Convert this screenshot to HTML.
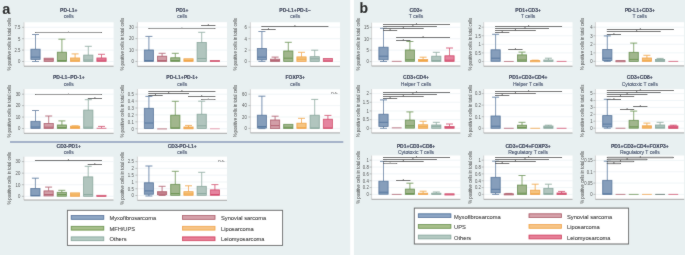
<!DOCTYPE html>
<html><head><meta charset="utf-8"><style>
html,body{margin:0;padding:0;background:#e8f0f1;}
svg{display:block;font-family:"Liberation Sans",sans-serif;}
#w{width:685px;height:255px;overflow:hidden;}
.t1{font-size:5.0px;font-weight:bold;fill:#18213f;stroke:#18213f;stroke-width:0.1px;text-anchor:middle;}
.t2{font-size:5.0px;fill:#34405f;stroke:#34405f;stroke-width:0.08px;text-anchor:middle;}
.tl{font-size:4.5px;fill:#4a4a4a;text-anchor:end;}
.yt{font-size:4.75px;fill:#3a3a3a;text-anchor:middle;}
.g{stroke:#e6eef2;stroke-width:0.6;}
.ay{stroke:#c8c8c8;stroke-width:0.8;}
.ax{stroke:#9a9a9a;stroke-width:0.9;}
.tk{stroke:#999;stroke-width:0.6;}
.sb{stroke:#4e4e4e;stroke-width:0.95;}
.sd{fill:#333;}
.st{font-size:4.4px;fill:#333;text-anchor:middle;}
.ns{font-size:4.3px;fill:#333;text-anchor:end;}
.lg{font-size:5.72px;fill:#1a1a1a;stroke:#1a1a1a;stroke-width:0.05px;}
.lab{font-size:14.5px;font-weight:bold;fill:#000;}
</style></head>
<body><div id="w"><svg width="685" height="255" viewBox="0 0 685 255">
<defs><filter id="soft" x="0" y="0" width="685" height="255" filterUnits="userSpaceOnUse"><feConvolveMatrix order="3" kernelMatrix="1 2 1 2 28 2 1 2 1" divisor="40" edgeMode="duplicate" preserveAlpha="true"/></filter></defs><g filter="url(#soft)">
<rect x="0" y="0" width="685" height="255" fill="#e8f0f1"/>
<rect x="350.2" y="0" width="3.7" height="255" fill="#fff"/>
<text x="2.3" y="14" class="lab">a</text>
<text x="359.6" y="12.9" class="lab" style="font-size:14px">b</text>
<line x1="10" x2="343.3" y1="142" y2="142" stroke="#8a9ab8" stroke-width="1.6"/>
<text x="68.8" y="12.2" class="t1">PD-L1+</text>
<text x="68.8" y="18.3" class="t2">cells</text>
<rect x="24" y="22.3" width="89.6" height="43.9" fill="#fff"/>
<line x1="24" x2="113.6" y1="27.3" y2="27.3" class="g"/>
<line x1="24" x2="113.6" y1="38.7" y2="38.7" class="g"/>
<line x1="24" x2="113.6" y1="50.1" y2="50.1" class="g"/>
<line x1="24" x2="113.6" y1="61.5" y2="61.5" class="g"/>
<line x1="24" x2="24" y1="22.3" y2="66.2" class="ay"/>
<line x1="24" x2="113.6" y1="66.2" y2="66.2" class="ax"/>
<line x1="22" x2="24" y1="27.3" y2="27.3" class="tk"/>
<text transform="translate(20.4,29.15) scale(0.95,1)" class="tl">7.5</text>
<line x1="22" x2="24" y1="38.7" y2="38.7" class="tk"/>
<text transform="translate(20.4,40.55) scale(0.95,1)" class="tl">5</text>
<line x1="22" x2="24" y1="50.1" y2="50.1" class="tk"/>
<text transform="translate(20.4,51.95) scale(0.95,1)" class="tl">2.5</text>
<line x1="22" x2="24" y1="61.5" y2="61.5" class="tk"/>
<text transform="translate(20.4,63.35) scale(0.95,1)" class="tl">0</text>
<text transform="translate(11,44.25) rotate(-90) scale(0.9,1)" class="yt">% positive cells in total cells</text>
<line x1="35.5" x2="35.5" y1="34.5" y2="49.2" stroke="#53759d" stroke-width="0.8"/>
<line x1="32" x2="39" y1="34.5" y2="34.5" stroke="#53759d" stroke-width="0.85"/>
<line x1="35.5" x2="35.5" y1="59.4" y2="61.5" stroke="#53759d" stroke-width="0.8"/>
<line x1="32" x2="39" y1="61.5" y2="61.5" stroke="#53759d" stroke-width="0.85"/>
<rect x="30.9" y="49.2" width="9.2" height="10.2" fill="#869ebb" stroke="#4a6e98" stroke-width="0.8"/>
<line x1="30.9" x2="40.1" y1="57.1" y2="57.1" stroke="#4a6e98" stroke-width="0.75"/>
<rect x="44.1" y="58.2" width="9.2" height="3.3" fill="#d29ea7" stroke="#ab5062" stroke-width="0.8"/>
<line x1="44.1" x2="53.3" y1="59.8" y2="59.8" stroke="#ab5062" stroke-width="0.75"/>
<line x1="61.9" x2="61.9" y1="39.2" y2="52.2" stroke="#67924b" stroke-width="0.8"/>
<line x1="58.4" x2="65.4" y1="39.2" y2="39.2" stroke="#67924b" stroke-width="0.85"/>
<rect x="57.3" y="52.2" width="9.2" height="9.3" fill="#a1b68d" stroke="#5f8c42" stroke-width="0.8"/>
<line x1="57.3" x2="66.5" y1="60.5" y2="60.5" stroke="#5f8c42" stroke-width="0.75"/>
<line x1="75.1" x2="75.1" y1="53.9" y2="58" stroke="#f0a43f" stroke-width="0.8"/>
<line x1="71.6" x2="78.6" y1="53.9" y2="53.9" stroke="#f0a43f" stroke-width="0.85"/>
<rect x="70.5" y="58" width="9.2" height="3.5" fill="#f5c482" stroke="#ef9f35" stroke-width="0.8"/>
<line x1="70.5" x2="79.7" y1="60.2" y2="60.2" stroke="#ef9f35" stroke-width="0.75"/>
<line x1="88.3" x2="88.3" y1="46.3" y2="55.1" stroke="#89a89d" stroke-width="0.8"/>
<line x1="84.8" x2="91.8" y1="46.3" y2="46.3" stroke="#89a89d" stroke-width="0.85"/>
<rect x="83.7" y="55.1" width="9.2" height="6.4" fill="#b1c5be" stroke="#83a398" stroke-width="0.8"/>
<line x1="83.7" x2="92.9" y1="60" y2="60" stroke="#83a398" stroke-width="0.75"/>
<line x1="101.5" x2="101.5" y1="54.3" y2="58" stroke="#d2466a" stroke-width="0.8"/>
<line x1="98" x2="105" y1="54.3" y2="54.3" stroke="#d2466a" stroke-width="0.85"/>
<rect x="96.9" y="58" width="9.2" height="3.5" fill="#e5849f" stroke="#d03c62" stroke-width="0.8"/>
<line x1="96.9" x2="106.1" y1="60.2" y2="60.2" stroke="#d03c62" stroke-width="0.75"/>
<line x1="35.5" x2="101.5" y1="32.5" y2="32.5" class="sb" style="stroke:#858585"/>
<circle cx="35.5" cy="32.5" r="0.55" class="sd"/><circle cx="101.5" cy="32.5" r="0.55" class="sd"/>
<ellipse cx="68.5" cy="32" rx="0.6" ry="0.8" class="sd" style="fill:#9a9a9a"/>
<text x="182.2" y="12.2" class="t1">PD1+</text>
<text x="182.2" y="18.3" class="t2">cells</text>
<rect x="137.4" y="22.2" width="89.6" height="44.1" fill="#fff"/>
<line x1="137.4" x2="227" y1="27.2" y2="27.2" class="g"/>
<line x1="137.4" x2="227" y1="38.63" y2="38.63" class="g"/>
<line x1="137.4" x2="227" y1="50.07" y2="50.07" class="g"/>
<line x1="137.4" x2="227" y1="61.5" y2="61.5" class="g"/>
<line x1="137.4" x2="137.4" y1="22.2" y2="66.3" class="ay"/>
<line x1="137.4" x2="227" y1="66.3" y2="66.3" class="ax"/>
<line x1="135.4" x2="137.4" y1="27.2" y2="27.2" class="tk"/>
<text transform="translate(133.8,29.05) scale(0.95,1)" class="tl">30</text>
<line x1="135.4" x2="137.4" y1="38.63" y2="38.63" class="tk"/>
<text transform="translate(133.8,40.48) scale(0.95,1)" class="tl">20</text>
<line x1="135.4" x2="137.4" y1="50.07" y2="50.07" class="tk"/>
<text transform="translate(133.8,51.92) scale(0.95,1)" class="tl">10</text>
<line x1="135.4" x2="137.4" y1="61.5" y2="61.5" class="tk"/>
<text transform="translate(133.8,63.35) scale(0.95,1)" class="tl">0</text>
<text transform="translate(124.4,44.25) rotate(-90) scale(0.9,1)" class="yt">% positive cells in total cells</text>
<line x1="148.9" x2="148.9" y1="36.4" y2="50" stroke="#53759d" stroke-width="0.8"/>
<line x1="145.4" x2="152.4" y1="36.4" y2="36.4" stroke="#53759d" stroke-width="0.85"/>
<rect x="144.3" y="50" width="9.2" height="11.5" fill="#869ebb" stroke="#4a6e98" stroke-width="0.8"/>
<line x1="144.3" x2="153.5" y1="60.5" y2="60.5" stroke="#4a6e98" stroke-width="0.75"/>
<line x1="162.1" x2="162.1" y1="53.3" y2="56.2" stroke="#af596a" stroke-width="0.8"/>
<line x1="158.6" x2="165.6" y1="53.3" y2="53.3" stroke="#af596a" stroke-width="0.85"/>
<rect x="157.5" y="56.2" width="9.2" height="5.3" fill="#d29ea7" stroke="#ab5062" stroke-width="0.8"/>
<line x1="157.5" x2="166.7" y1="60.5" y2="60.5" stroke="#ab5062" stroke-width="0.75"/>
<line x1="175.3" x2="175.3" y1="53.3" y2="57.8" stroke="#67924b" stroke-width="0.8"/>
<line x1="171.8" x2="178.8" y1="53.3" y2="53.3" stroke="#67924b" stroke-width="0.85"/>
<rect x="170.7" y="57.8" width="9.2" height="3.7" fill="#a1b68d" stroke="#5f8c42" stroke-width="0.8"/>
<line x1="170.7" x2="179.9" y1="60.5" y2="60.5" stroke="#5f8c42" stroke-width="0.75"/>
<rect x="183.9" y="58.8" width="9.2" height="2.7" fill="#f5c482" stroke="#ef9f35" stroke-width="0.8"/>
<line x1="183.9" x2="193.1" y1="60.5" y2="60.5" stroke="#ef9f35" stroke-width="0.75"/>
<line x1="201.7" x2="201.7" y1="32.3" y2="42.5" stroke="#89a89d" stroke-width="0.8"/>
<line x1="198.2" x2="205.2" y1="32.3" y2="32.3" stroke="#89a89d" stroke-width="0.85"/>
<rect x="197.1" y="42.5" width="9.2" height="19" fill="#b1c5be" stroke="#83a398" stroke-width="0.8"/>
<line x1="197.1" x2="206.3" y1="58.5" y2="58.5" stroke="#83a398" stroke-width="0.75"/>
<rect x="210.3" y="60.5" width="9.2" height="1.1" fill="#e5849f" stroke="#d03c62" stroke-width="0.8"/>
<line x1="148.9" x2="214.9" y1="28.5" y2="28.5" class="sb" style="stroke:#858585"/>
<circle cx="148.9" cy="28.5" r="0.55" class="sd"/><circle cx="214.9" cy="28.5" r="0.55" class="sd"/>
<ellipse cx="181.9" cy="28" rx="0.6" ry="0.8" class="sd" style="fill:#9a9a9a"/>
<line x1="201.7" x2="214.9" y1="25.5" y2="25.5" class="sb"/>
<circle cx="201.7" cy="25.5" r="0.55" class="sd"/><circle cx="214.9" cy="25.5" r="0.55" class="sd"/>
<ellipse cx="208.3" cy="25" rx="0.6" ry="0.8" class="sd"/>
<text x="295.2" y="12.2" class="t1">PD-L1+PD-1−</text>
<text x="295.2" y="18.3" class="t2">cells</text>
<rect x="250.4" y="22.3" width="89.6" height="44" fill="#fff"/>
<line x1="250.4" x2="340" y1="27.2" y2="27.2" class="g"/>
<line x1="250.4" x2="340" y1="38.67" y2="38.67" class="g"/>
<line x1="250.4" x2="340" y1="50.13" y2="50.13" class="g"/>
<line x1="250.4" x2="340" y1="61.6" y2="61.6" class="g"/>
<line x1="250.4" x2="250.4" y1="22.3" y2="66.3" class="ay"/>
<line x1="250.4" x2="340" y1="66.3" y2="66.3" class="ax"/>
<line x1="248.4" x2="250.4" y1="27.2" y2="27.2" class="tk"/>
<text transform="translate(246.8,29.05) scale(0.95,1)" class="tl">6</text>
<line x1="248.4" x2="250.4" y1="38.67" y2="38.67" class="tk"/>
<text transform="translate(246.8,40.52) scale(0.95,1)" class="tl">4</text>
<line x1="248.4" x2="250.4" y1="50.13" y2="50.13" class="tk"/>
<text transform="translate(246.8,51.98) scale(0.95,1)" class="tl">2</text>
<line x1="248.4" x2="250.4" y1="61.6" y2="61.6" class="tk"/>
<text transform="translate(246.8,63.45) scale(0.95,1)" class="tl">0</text>
<text transform="translate(237.4,44.3) rotate(-90) scale(0.9,1)" class="yt">% positive cells in total cells</text>
<line x1="261.9" x2="261.9" y1="31.5" y2="48.4" stroke="#53759d" stroke-width="0.8"/>
<line x1="258.4" x2="265.4" y1="31.5" y2="31.5" stroke="#53759d" stroke-width="0.85"/>
<line x1="261.9" x2="261.9" y1="59.8" y2="61.4" stroke="#53759d" stroke-width="0.8"/>
<line x1="258.4" x2="265.4" y1="61.4" y2="61.4" stroke="#53759d" stroke-width="0.85"/>
<rect x="257.3" y="48.4" width="9.2" height="11.4" fill="#869ebb" stroke="#4a6e98" stroke-width="0.8"/>
<line x1="257.3" x2="266.5" y1="57.1" y2="57.1" stroke="#4a6e98" stroke-width="0.75"/>
<line x1="275.1" x2="275.1" y1="57.1" y2="59.2" stroke="#af596a" stroke-width="0.8"/>
<line x1="271.6" x2="278.6" y1="57.1" y2="57.1" stroke="#af596a" stroke-width="0.85"/>
<rect x="270.5" y="59.2" width="9.2" height="2.2" fill="#d29ea7" stroke="#ab5062" stroke-width="0.8"/>
<line x1="270.5" x2="279.7" y1="60.6" y2="60.6" stroke="#ab5062" stroke-width="0.75"/>
<line x1="288.3" x2="288.3" y1="42.3" y2="51" stroke="#67924b" stroke-width="0.8"/>
<line x1="284.8" x2="291.8" y1="42.3" y2="42.3" stroke="#67924b" stroke-width="0.85"/>
<rect x="283.7" y="51" width="9.2" height="10.4" fill="#a1b68d" stroke="#5f8c42" stroke-width="0.8"/>
<line x1="283.7" x2="292.9" y1="58.2" y2="58.2" stroke="#5f8c42" stroke-width="0.75"/>
<line x1="301.5" x2="301.5" y1="52.3" y2="56.9" stroke="#f0a43f" stroke-width="0.8"/>
<line x1="298" x2="305" y1="52.3" y2="52.3" stroke="#f0a43f" stroke-width="0.85"/>
<rect x="296.9" y="56.9" width="9.2" height="4.5" fill="#f5c482" stroke="#ef9f35" stroke-width="0.8"/>
<line x1="296.9" x2="306.1" y1="59.2" y2="59.2" stroke="#ef9f35" stroke-width="0.75"/>
<line x1="314.7" x2="314.7" y1="50.2" y2="56.7" stroke="#89a89d" stroke-width="0.8"/>
<line x1="311.2" x2="318.2" y1="50.2" y2="50.2" stroke="#89a89d" stroke-width="0.85"/>
<rect x="310.1" y="56.7" width="9.2" height="4.7" fill="#b1c5be" stroke="#83a398" stroke-width="0.8"/>
<line x1="310.1" x2="319.3" y1="58.8" y2="58.8" stroke="#83a398" stroke-width="0.75"/>
<rect x="323.3" y="58.4" width="9.2" height="3.2" fill="#e5849f" stroke="#d03c62" stroke-width="0.8"/>
<line x1="323.3" x2="332.5" y1="61" y2="61" stroke="#d03c62" stroke-width="0.75"/>
<line x1="261.9" x2="327.9" y1="26.5" y2="26.5" class="sb"/>
<circle cx="261.9" cy="26.5" r="0.55" class="sd"/><circle cx="327.9" cy="26.5" r="0.55" class="sd"/>
<ellipse cx="294.9" cy="26" rx="0.6" ry="0.8" class="sd"/>
<line x1="261.9" x2="275.1" y1="29.5" y2="29.5" class="sb"/>
<circle cx="261.9" cy="29.5" r="0.55" class="sd"/><circle cx="275.1" cy="29.5" r="0.55" class="sd"/>
<ellipse cx="268.5" cy="29" rx="0.6" ry="0.8" class="sd"/>
<text x="68.8" y="79.4" class="t1">PD-L1−PD-1+</text>
<text x="68.8" y="85.5" class="t2">cells</text>
<rect x="24" y="89.1" width="89.6" height="44.2" fill="#fff"/>
<line x1="24" x2="113.6" y1="94.2" y2="94.2" class="g"/>
<line x1="24" x2="113.6" y1="105.63" y2="105.63" class="g"/>
<line x1="24" x2="113.6" y1="117.07" y2="117.07" class="g"/>
<line x1="24" x2="113.6" y1="128.5" y2="128.5" class="g"/>
<line x1="24" x2="24" y1="89.1" y2="133.3" class="ay"/>
<line x1="24" x2="113.6" y1="133.3" y2="133.3" class="ax"/>
<line x1="22" x2="24" y1="94.2" y2="94.2" class="tk"/>
<text transform="translate(20.4,96.05) scale(0.95,1)" class="tl">30</text>
<line x1="22" x2="24" y1="105.63" y2="105.63" class="tk"/>
<text transform="translate(20.4,107.48) scale(0.95,1)" class="tl">20</text>
<line x1="22" x2="24" y1="117.07" y2="117.07" class="tk"/>
<text transform="translate(20.4,118.92) scale(0.95,1)" class="tl">10</text>
<line x1="22" x2="24" y1="128.5" y2="128.5" class="tk"/>
<text transform="translate(20.4,130.35) scale(0.95,1)" class="tl">0</text>
<text transform="translate(11,111.2) rotate(-90) scale(0.9,1)" class="yt">% positive cells in total cells</text>
<line x1="35.5" x2="35.5" y1="110.5" y2="121.3" stroke="#53759d" stroke-width="0.8"/>
<line x1="32" x2="39" y1="110.5" y2="110.5" stroke="#53759d" stroke-width="0.85"/>
<rect x="30.9" y="121.3" width="9.2" height="7.2" fill="#869ebb" stroke="#4a6e98" stroke-width="0.8"/>
<line x1="30.9" x2="40.1" y1="127" y2="127" stroke="#4a6e98" stroke-width="0.75"/>
<line x1="48.7" x2="48.7" y1="116" y2="123.4" stroke="#af596a" stroke-width="0.8"/>
<line x1="45.2" x2="52.2" y1="116" y2="116" stroke="#af596a" stroke-width="0.85"/>
<rect x="44.1" y="123.4" width="9.2" height="5.1" fill="#d29ea7" stroke="#ab5062" stroke-width="0.8"/>
<line x1="44.1" x2="53.3" y1="127.2" y2="127.2" stroke="#ab5062" stroke-width="0.75"/>
<line x1="61.9" x2="61.9" y1="120.9" y2="125" stroke="#67924b" stroke-width="0.8"/>
<line x1="58.4" x2="65.4" y1="120.9" y2="120.9" stroke="#67924b" stroke-width="0.85"/>
<rect x="57.3" y="125" width="9.2" height="3.5" fill="#a1b68d" stroke="#5f8c42" stroke-width="0.8"/>
<line x1="57.3" x2="66.5" y1="127.5" y2="127.5" stroke="#5f8c42" stroke-width="0.75"/>
<line x1="75.1" x2="75.1" y1="125.8" y2="126.2" stroke="#f0a43f" stroke-width="0.8"/>
<line x1="71.6" x2="78.6" y1="125.8" y2="125.8" stroke="#f0a43f" stroke-width="0.85"/>
<rect x="70.5" y="126.2" width="9.2" height="2.3" fill="#f5c482" stroke="#ef9f35" stroke-width="0.8"/>
<line x1="70.5" x2="79.7" y1="127.5" y2="127.5" stroke="#ef9f35" stroke-width="0.75"/>
<line x1="88.3" x2="88.3" y1="99.7" y2="110.1" stroke="#89a89d" stroke-width="0.8"/>
<line x1="84.8" x2="91.8" y1="99.7" y2="99.7" stroke="#89a89d" stroke-width="0.85"/>
<rect x="83.7" y="110.1" width="9.2" height="18.4" fill="#b1c5be" stroke="#83a398" stroke-width="0.8"/>
<line x1="83.7" x2="92.9" y1="127.2" y2="127.2" stroke="#83a398" stroke-width="0.75"/>
<line x1="101.5" x2="101.5" y1="126.4" y2="127.9" stroke="#d2466a" stroke-width="0.8"/>
<line x1="98" x2="105" y1="126.4" y2="126.4" stroke="#d2466a" stroke-width="0.85"/>
<rect x="96.6" y="127.8" width="9.8" height="1" fill="#d96381"/>
<line x1="35.5" x2="101.5" y1="94.5" y2="94.5" class="sb" style="stroke:#858585"/>
<circle cx="35.5" cy="94.5" r="0.55" class="sd"/><circle cx="101.5" cy="94.5" r="0.55" class="sd"/>
<ellipse cx="68.5" cy="94" rx="0.6" ry="0.8" class="sd" style="fill:#9a9a9a"/>
<line x1="88.3" x2="101.5" y1="98.5" y2="98.5" class="sb"/>
<circle cx="88.3" cy="98.5" r="0.55" class="sd"/><circle cx="101.5" cy="98.5" r="0.55" class="sd"/>
<ellipse cx="94.9" cy="98" rx="0.6" ry="0.8" class="sd"/>
<text x="182.2" y="79.4" class="t1">PD-L1+PD-1+</text>
<text x="182.2" y="85.5" class="t2">cells</text>
<rect x="137.4" y="89" width="89.6" height="44.3" fill="#fff"/>
<line x1="137.4" x2="227" y1="94.2" y2="94.2" class="g"/>
<line x1="137.4" x2="227" y1="101.1" y2="101.1" class="g"/>
<line x1="137.4" x2="227" y1="108" y2="108" class="g"/>
<line x1="137.4" x2="227" y1="114.9" y2="114.9" class="g"/>
<line x1="137.4" x2="227" y1="121.8" y2="121.8" class="g"/>
<line x1="137.4" x2="227" y1="128.7" y2="128.7" class="g"/>
<line x1="137.4" x2="137.4" y1="89" y2="133.3" class="ay"/>
<line x1="137.4" x2="227" y1="133.3" y2="133.3" class="ax"/>
<line x1="135.4" x2="137.4" y1="94.2" y2="94.2" class="tk"/>
<text transform="translate(133.8,96.05) scale(0.95,1)" class="tl">0.5</text>
<line x1="135.4" x2="137.4" y1="101.1" y2="101.1" class="tk"/>
<text transform="translate(133.8,102.95) scale(0.95,1)" class="tl">0.4</text>
<line x1="135.4" x2="137.4" y1="108" y2="108" class="tk"/>
<text transform="translate(133.8,109.85) scale(0.95,1)" class="tl">0.3</text>
<line x1="135.4" x2="137.4" y1="114.9" y2="114.9" class="tk"/>
<text transform="translate(133.8,116.75) scale(0.95,1)" class="tl">0.2</text>
<line x1="135.4" x2="137.4" y1="121.8" y2="121.8" class="tk"/>
<text transform="translate(133.8,123.65) scale(0.95,1)" class="tl">0.1</text>
<line x1="135.4" x2="137.4" y1="128.7" y2="128.7" class="tk"/>
<text transform="translate(133.8,130.55) scale(0.95,1)" class="tl">0</text>
<text transform="translate(124.4,111.15) rotate(-90) scale(0.9,1)" class="yt">% positive cells in total cells</text>
<line x1="148.9" x2="148.9" y1="96.4" y2="108.3" stroke="#53759d" stroke-width="0.8"/>
<line x1="145.4" x2="152.4" y1="96.4" y2="96.4" stroke="#53759d" stroke-width="0.85"/>
<rect x="144.3" y="108.3" width="9.2" height="20.2" fill="#869ebb" stroke="#4a6e98" stroke-width="0.8"/>
<line x1="144.3" x2="153.5" y1="123" y2="123" stroke="#4a6e98" stroke-width="0.75"/>
<rect x="157.2" y="128.4" width="9.8" height="1" fill="#bc7381"/>
<line x1="175.3" x2="175.3" y1="101.3" y2="115.2" stroke="#67924b" stroke-width="0.8"/>
<line x1="171.8" x2="178.8" y1="101.3" y2="101.3" stroke="#67924b" stroke-width="0.85"/>
<rect x="170.7" y="115.2" width="9.2" height="13.3" fill="#a1b68d" stroke="#5f8c42" stroke-width="0.8"/>
<line x1="170.7" x2="179.9" y1="127.9" y2="127.9" stroke="#5f8c42" stroke-width="0.75"/>
<line x1="188.5" x2="188.5" y1="125.4" y2="127" stroke="#f0a43f" stroke-width="0.8"/>
<line x1="185" x2="192" y1="125.4" y2="125.4" stroke="#f0a43f" stroke-width="0.85"/>
<rect x="183.9" y="127" width="9.2" height="1.8" fill="#f5c482" stroke="#ef9f35" stroke-width="0.8"/>
<line x1="183.9" x2="193.1" y1="128" y2="128" stroke="#ef9f35" stroke-width="0.75"/>
<line x1="201.7" x2="201.7" y1="101.2" y2="114.2" stroke="#89a89d" stroke-width="0.8"/>
<line x1="198.2" x2="205.2" y1="101.2" y2="101.2" stroke="#89a89d" stroke-width="0.85"/>
<rect x="197.1" y="114.2" width="9.2" height="14.3" fill="#b1c5be" stroke="#83a398" stroke-width="0.8"/>
<line x1="197.1" x2="206.3" y1="125.8" y2="125.8" stroke="#83a398" stroke-width="0.75"/>
<rect x="210" y="128.25" width="9.8" height="1" fill="#e89eb0"/>
<line x1="148.9" x2="214.9" y1="91.5" y2="91.5" class="sb"/>
<circle cx="148.9" cy="91.5" r="0.55" class="sd"/><circle cx="214.9" cy="91.5" r="0.55" class="sd"/>
<ellipse cx="181.9" cy="91" rx="0.6" ry="0.8" class="sd"/>
<line x1="148.9" x2="188.5" y1="93.5" y2="93.5" class="sb"/>
<circle cx="148.9" cy="93.5" r="0.55" class="sd"/><circle cx="188.5" cy="93.5" r="0.55" class="sd"/>
<ellipse cx="168.7" cy="93" rx="0.6" ry="0.8" class="sd"/>
<line x1="148.9" x2="162.1" y1="95.5" y2="95.5" class="sb"/>
<circle cx="148.9" cy="95.5" r="0.55" class="sd"/><circle cx="162.1" cy="95.5" r="0.55" class="sd"/>
<ellipse cx="155.5" cy="95" rx="0.6" ry="0.8" class="sd"/>
<line x1="188.5" x2="214.9" y1="96.5" y2="96.5" class="sb"/>
<circle cx="188.5" cy="96.5" r="0.55" class="sd"/><circle cx="214.9" cy="96.5" r="0.55" class="sd"/>
<ellipse cx="201.7" cy="96" rx="0.6" ry="0.8" class="sd"/>
<line x1="201.7" x2="214.9" y1="99.5" y2="99.5" class="sb" style="stroke:#858585"/>
<circle cx="201.7" cy="99.5" r="0.55" class="sd"/><circle cx="214.9" cy="99.5" r="0.55" class="sd"/>
<ellipse cx="208.3" cy="99" rx="0.6" ry="0.8" class="sd" style="fill:#9a9a9a"/>
<text x="295.2" y="79.4" class="t1">FOXP3+</text>
<text x="295.2" y="85.5" class="t2">cells</text>
<rect x="250.4" y="89.3" width="89.6" height="43.6" fill="#fff"/>
<line x1="250.4" x2="340" y1="94.2" y2="94.2" class="g"/>
<line x1="250.4" x2="340" y1="105.6" y2="105.6" class="g"/>
<line x1="250.4" x2="340" y1="117" y2="117" class="g"/>
<line x1="250.4" x2="340" y1="128.4" y2="128.4" class="g"/>
<line x1="250.4" x2="250.4" y1="89.3" y2="132.9" class="ay"/>
<line x1="250.4" x2="340" y1="132.9" y2="132.9" class="ax"/>
<line x1="248.4" x2="250.4" y1="94.2" y2="94.2" class="tk"/>
<text transform="translate(246.8,96.05) scale(0.95,1)" class="tl">60</text>
<line x1="248.4" x2="250.4" y1="105.6" y2="105.6" class="tk"/>
<text transform="translate(246.8,107.45) scale(0.95,1)" class="tl">40</text>
<line x1="248.4" x2="250.4" y1="117" y2="117" class="tk"/>
<text transform="translate(246.8,118.85) scale(0.95,1)" class="tl">20</text>
<line x1="248.4" x2="250.4" y1="128.4" y2="128.4" class="tk"/>
<text transform="translate(246.8,130.25) scale(0.95,1)" class="tl">0</text>
<text transform="translate(237.4,111.1) rotate(-90) scale(0.9,1)" class="yt">% positive cells in total cells</text>
<line x1="261.9" x2="261.9" y1="96.2" y2="115.2" stroke="#53759d" stroke-width="0.8"/>
<line x1="258.4" x2="265.4" y1="96.2" y2="96.2" stroke="#53759d" stroke-width="0.85"/>
<line x1="261.9" x2="261.9" y1="128" y2="128.6" stroke="#53759d" stroke-width="0.8"/>
<line x1="258.4" x2="265.4" y1="128.6" y2="128.6" stroke="#53759d" stroke-width="0.85"/>
<rect x="257.3" y="115.2" width="9.2" height="12.8" fill="#869ebb" stroke="#4a6e98" stroke-width="0.8"/>
<line x1="257.3" x2="266.5" y1="126.5" y2="126.5" stroke="#4a6e98" stroke-width="0.75"/>
<line x1="275.1" x2="275.1" y1="116.2" y2="120" stroke="#af596a" stroke-width="0.8"/>
<line x1="271.6" x2="278.6" y1="116.2" y2="116.2" stroke="#af596a" stroke-width="0.85"/>
<rect x="270.5" y="120" width="9.2" height="8.6" fill="#d29ea7" stroke="#ab5062" stroke-width="0.8"/>
<line x1="270.5" x2="279.7" y1="125.6" y2="125.6" stroke="#ab5062" stroke-width="0.75"/>
<rect x="283.7" y="124.3" width="9.2" height="4.3" fill="#a1b68d" stroke="#5f8c42" stroke-width="0.8"/>
<line x1="283.7" x2="292.9" y1="127.3" y2="127.3" stroke="#5f8c42" stroke-width="0.75"/>
<line x1="301.5" x2="301.5" y1="118.3" y2="123.2" stroke="#f0a43f" stroke-width="0.8"/>
<line x1="298" x2="305" y1="118.3" y2="118.3" stroke="#f0a43f" stroke-width="0.85"/>
<rect x="296.9" y="123.2" width="9.2" height="5.4" fill="#f5c482" stroke="#ef9f35" stroke-width="0.8"/>
<line x1="296.9" x2="306.1" y1="127.7" y2="127.7" stroke="#ef9f35" stroke-width="0.75"/>
<line x1="314.7" x2="314.7" y1="99.4" y2="115.2" stroke="#89a89d" stroke-width="0.8"/>
<line x1="311.2" x2="318.2" y1="99.4" y2="99.4" stroke="#89a89d" stroke-width="0.85"/>
<rect x="310.1" y="115.2" width="9.2" height="13.4" fill="#b1c5be" stroke="#83a398" stroke-width="0.8"/>
<line x1="310.1" x2="319.3" y1="127.9" y2="127.9" stroke="#83a398" stroke-width="0.75"/>
<line x1="327.9" x2="327.9" y1="115.4" y2="119.2" stroke="#d2466a" stroke-width="0.8"/>
<line x1="324.4" x2="331.4" y1="115.4" y2="115.4" stroke="#d2466a" stroke-width="0.85"/>
<rect x="323.3" y="119.2" width="9.2" height="9.4" fill="#e5849f" stroke="#d03c62" stroke-width="0.8"/>
<line x1="323.3" x2="332.5" y1="128" y2="128" stroke="#d03c62" stroke-width="0.75"/>
<text x="338.2" y="94.3" class="ns">n.s.</text>
<text x="68.7" y="147.8" class="t1">CD3-PD1+</text>
<text x="68.7" y="153.9" class="t2">cells</text>
<rect x="23.9" y="156.7" width="89.6" height="43.3" fill="#fff"/>
<line x1="23.9" x2="113.5" y1="161.6" y2="161.6" class="g"/>
<line x1="23.9" x2="113.5" y1="173.17" y2="173.17" class="g"/>
<line x1="23.9" x2="113.5" y1="184.73" y2="184.73" class="g"/>
<line x1="23.9" x2="113.5" y1="196.3" y2="196.3" class="g"/>
<line x1="23.9" x2="23.9" y1="156.7" y2="200" class="ay"/>
<line x1="23.9" x2="113.5" y1="200" y2="200" class="ax"/>
<line x1="21.9" x2="23.9" y1="161.6" y2="161.6" class="tk"/>
<text transform="translate(20.3,163.45) scale(0.95,1)" class="tl">30</text>
<line x1="21.9" x2="23.9" y1="173.17" y2="173.17" class="tk"/>
<text transform="translate(20.3,175.02) scale(0.95,1)" class="tl">20</text>
<line x1="21.9" x2="23.9" y1="184.73" y2="184.73" class="tk"/>
<text transform="translate(20.3,186.58) scale(0.95,1)" class="tl">10</text>
<line x1="21.9" x2="23.9" y1="196.3" y2="196.3" class="tk"/>
<text transform="translate(20.3,198.15) scale(0.95,1)" class="tl">0</text>
<text transform="translate(10.9,178.35) rotate(-90) scale(0.9,1)" class="yt">% positive cells in total cells</text>
<line x1="35.4" x2="35.4" y1="178.2" y2="188.5" stroke="#53759d" stroke-width="0.8"/>
<line x1="31.9" x2="38.9" y1="178.2" y2="178.2" stroke="#53759d" stroke-width="0.85"/>
<rect x="30.8" y="188.5" width="9.2" height="7.5" fill="#869ebb" stroke="#4a6e98" stroke-width="0.8"/>
<line x1="30.8" x2="40" y1="195.5" y2="195.5" stroke="#4a6e98" stroke-width="0.75"/>
<line x1="48.6" x2="48.6" y1="187.1" y2="190.9" stroke="#af596a" stroke-width="0.8"/>
<line x1="45.1" x2="52.1" y1="187.1" y2="187.1" stroke="#af596a" stroke-width="0.85"/>
<rect x="44" y="190.9" width="9.2" height="5" fill="#d29ea7" stroke="#ab5062" stroke-width="0.8"/>
<line x1="44" x2="53.2" y1="194.5" y2="194.5" stroke="#ab5062" stroke-width="0.75"/>
<line x1="61.8" x2="61.8" y1="190.3" y2="192.3" stroke="#67924b" stroke-width="0.8"/>
<line x1="58.3" x2="65.3" y1="190.3" y2="190.3" stroke="#67924b" stroke-width="0.85"/>
<rect x="57.2" y="192.3" width="9.2" height="3.9" fill="#a1b68d" stroke="#5f8c42" stroke-width="0.8"/>
<line x1="57.2" x2="66.4" y1="194.5" y2="194.5" stroke="#5f8c42" stroke-width="0.75"/>
<rect x="70.4" y="192.9" width="9.2" height="3.4" fill="#f5c482" stroke="#ef9f35" stroke-width="0.8"/>
<line x1="70.4" x2="79.6" y1="195" y2="195" stroke="#ef9f35" stroke-width="0.75"/>
<line x1="88.2" x2="88.2" y1="166.3" y2="176.9" stroke="#89a89d" stroke-width="0.8"/>
<line x1="84.7" x2="91.7" y1="166.3" y2="166.3" stroke="#89a89d" stroke-width="0.85"/>
<rect x="83.6" y="176.9" width="9.2" height="19.4" fill="#b1c5be" stroke="#83a398" stroke-width="0.8"/>
<line x1="83.6" x2="92.8" y1="194.5" y2="194.5" stroke="#83a398" stroke-width="0.75"/>
<rect x="96.8" y="195.3" width="9.2" height="1.2" fill="#e5849f" stroke="#d03c62" stroke-width="0.8"/>
<line x1="35.4" x2="101.4" y1="160.5" y2="160.5" class="sb"/>
<circle cx="35.4" cy="160.5" r="0.55" class="sd"/><circle cx="101.4" cy="160.5" r="0.55" class="sd"/>
<ellipse cx="68.4" cy="160" rx="0.6" ry="0.8" class="sd"/>
<line x1="88.2" x2="101.4" y1="164.5" y2="164.5" class="sb"/>
<circle cx="88.2" cy="164.5" r="0.55" class="sd"/><circle cx="101.4" cy="164.5" r="0.55" class="sd"/>
<ellipse cx="94.8" cy="164" rx="0.6" ry="0.8" class="sd"/>
<text x="182.2" y="147.8" class="t1">CD3-PD-L1+</text>
<text x="182.2" y="153.9" class="t2">cells</text>
<rect x="137.4" y="156.6" width="89.6" height="43.7" fill="#fff"/>
<line x1="137.4" x2="227" y1="161.6" y2="161.6" class="g"/>
<line x1="137.4" x2="227" y1="168.38" y2="168.38" class="g"/>
<line x1="137.4" x2="227" y1="175.16" y2="175.16" class="g"/>
<line x1="137.4" x2="227" y1="181.94" y2="181.94" class="g"/>
<line x1="137.4" x2="227" y1="188.72" y2="188.72" class="g"/>
<line x1="137.4" x2="227" y1="195.5" y2="195.5" class="g"/>
<line x1="137.4" x2="137.4" y1="156.6" y2="200.3" class="ay"/>
<line x1="137.4" x2="227" y1="200.3" y2="200.3" class="ax"/>
<line x1="135.4" x2="137.4" y1="161.6" y2="161.6" class="tk"/>
<text transform="translate(133.8,163.45) scale(0.95,1)" class="tl">2.5</text>
<line x1="135.4" x2="137.4" y1="168.38" y2="168.38" class="tk"/>
<text transform="translate(133.8,170.23) scale(0.95,1)" class="tl">2</text>
<line x1="135.4" x2="137.4" y1="175.16" y2="175.16" class="tk"/>
<text transform="translate(133.8,177.01) scale(0.95,1)" class="tl">1.5</text>
<line x1="135.4" x2="137.4" y1="181.94" y2="181.94" class="tk"/>
<text transform="translate(133.8,183.79) scale(0.95,1)" class="tl">1</text>
<line x1="135.4" x2="137.4" y1="188.72" y2="188.72" class="tk"/>
<text transform="translate(133.8,190.57) scale(0.95,1)" class="tl">0.5</text>
<line x1="135.4" x2="137.4" y1="195.5" y2="195.5" class="tk"/>
<text transform="translate(133.8,197.35) scale(0.95,1)" class="tl">0</text>
<text transform="translate(124.4,178.45) rotate(-90) scale(0.9,1)" class="yt">% positive cells in total cells</text>
<line x1="148.9" x2="148.9" y1="166" y2="182.8" stroke="#53759d" stroke-width="0.8"/>
<line x1="145.4" x2="152.4" y1="166" y2="166" stroke="#53759d" stroke-width="0.85"/>
<line x1="148.9" x2="148.9" y1="194.2" y2="196" stroke="#53759d" stroke-width="0.8"/>
<line x1="145.4" x2="152.4" y1="196" y2="196" stroke="#53759d" stroke-width="0.85"/>
<rect x="144.3" y="182.8" width="9.2" height="11.4" fill="#869ebb" stroke="#4a6e98" stroke-width="0.8"/>
<line x1="144.3" x2="153.5" y1="190.9" y2="190.9" stroke="#4a6e98" stroke-width="0.75"/>
<line x1="162.1" x2="162.1" y1="186.3" y2="191.7" stroke="#af596a" stroke-width="0.8"/>
<line x1="158.6" x2="165.6" y1="186.3" y2="186.3" stroke="#af596a" stroke-width="0.85"/>
<line x1="162.1" x2="162.1" y1="194.7" y2="195.5" stroke="#af596a" stroke-width="0.8"/>
<line x1="158.6" x2="165.6" y1="195.5" y2="195.5" stroke="#af596a" stroke-width="0.85"/>
<rect x="157.5" y="191.7" width="9.2" height="3" fill="#d29ea7" stroke="#ab5062" stroke-width="0.8"/>
<line x1="157.5" x2="166.7" y1="193" y2="193" stroke="#ab5062" stroke-width="0.75"/>
<line x1="175.3" x2="175.3" y1="171.3" y2="184.3" stroke="#67924b" stroke-width="0.8"/>
<line x1="171.8" x2="178.8" y1="171.3" y2="171.3" stroke="#67924b" stroke-width="0.85"/>
<rect x="170.7" y="184.3" width="9.2" height="11" fill="#a1b68d" stroke="#5f8c42" stroke-width="0.8"/>
<line x1="170.7" x2="179.9" y1="193.5" y2="193.5" stroke="#5f8c42" stroke-width="0.75"/>
<line x1="188.5" x2="188.5" y1="185.8" y2="191.7" stroke="#f0a43f" stroke-width="0.8"/>
<line x1="185" x2="192" y1="185.8" y2="185.8" stroke="#f0a43f" stroke-width="0.85"/>
<rect x="183.9" y="191.7" width="9.2" height="3.6" fill="#f5c482" stroke="#ef9f35" stroke-width="0.8"/>
<line x1="183.9" x2="193.1" y1="194" y2="194" stroke="#ef9f35" stroke-width="0.75"/>
<line x1="201.7" x2="201.7" y1="172.3" y2="186.3" stroke="#89a89d" stroke-width="0.8"/>
<line x1="198.2" x2="205.2" y1="172.3" y2="172.3" stroke="#89a89d" stroke-width="0.85"/>
<rect x="197.1" y="186.3" width="9.2" height="9" fill="#b1c5be" stroke="#83a398" stroke-width="0.8"/>
<line x1="197.1" x2="206.3" y1="193.5" y2="193.5" stroke="#83a398" stroke-width="0.75"/>
<line x1="214.9" x2="214.9" y1="184.6" y2="189.9" stroke="#d2466a" stroke-width="0.8"/>
<line x1="211.4" x2="218.4" y1="184.6" y2="184.6" stroke="#d2466a" stroke-width="0.85"/>
<rect x="210.3" y="189.9" width="9.2" height="5.4" fill="#e5849f" stroke="#d03c62" stroke-width="0.8"/>
<line x1="210.3" x2="219.5" y1="194.5" y2="194.5" stroke="#d03c62" stroke-width="0.75"/>
<text x="225.2" y="161.6" class="ns">n.s.</text>
<text x="416" y="12.2" class="t1">CD3+</text>
<text x="416" y="18.3" class="t2">T cells</text>
<rect x="371.6" y="22.6" width="88.8" height="43.4" fill="#fff"/>
<line x1="371.6" x2="460.4" y1="27.3" y2="27.3" class="g"/>
<line x1="371.6" x2="460.4" y1="38.73" y2="38.73" class="g"/>
<line x1="371.6" x2="460.4" y1="50.17" y2="50.17" class="g"/>
<line x1="371.6" x2="460.4" y1="61.6" y2="61.6" class="g"/>
<line x1="371.6" x2="371.6" y1="22.6" y2="66" class="ay"/>
<line x1="371.6" x2="460.4" y1="66" y2="66" class="ax"/>
<line x1="369.6" x2="371.6" y1="27.3" y2="27.3" class="tk"/>
<text transform="translate(368.8,29.15) scale(0.95,1)" class="tl">15</text>
<line x1="369.6" x2="371.6" y1="38.73" y2="38.73" class="tk"/>
<text transform="translate(368.8,40.58) scale(0.95,1)" class="tl">10</text>
<line x1="369.6" x2="371.6" y1="50.17" y2="50.17" class="tk"/>
<text transform="translate(368.8,52.02) scale(0.95,1)" class="tl">5</text>
<line x1="369.6" x2="371.6" y1="61.6" y2="61.6" class="tk"/>
<text transform="translate(368.8,63.45) scale(0.95,1)" class="tl">0</text>
<text transform="translate(359.7,44.3) rotate(-90) scale(0.9,1)" class="yt">% positive cells in total cells</text>
<line x1="383.5" x2="383.5" y1="28.3" y2="47.2" stroke="#53759d" stroke-width="0.8"/>
<line x1="380" x2="387" y1="28.3" y2="28.3" stroke="#53759d" stroke-width="0.85"/>
<line x1="383.5" x2="383.5" y1="59.8" y2="61.5" stroke="#53759d" stroke-width="0.8"/>
<line x1="380" x2="387" y1="61.5" y2="61.5" stroke="#53759d" stroke-width="0.85"/>
<rect x="378.9" y="47.2" width="9.2" height="12.6" fill="#869ebb" stroke="#4a6e98" stroke-width="0.8"/>
<line x1="378.9" x2="388.1" y1="56.2" y2="56.2" stroke="#4a6e98" stroke-width="0.75"/>
<rect x="391.8" y="60.85" width="9.8" height="1" fill="#bc7381"/>
<line x1="409.9" x2="409.9" y1="41.5" y2="50" stroke="#67924b" stroke-width="0.8"/>
<line x1="406.4" x2="413.4" y1="41.5" y2="41.5" stroke="#67924b" stroke-width="0.85"/>
<rect x="405.3" y="50" width="9.2" height="11.3" fill="#a1b68d" stroke="#5f8c42" stroke-width="0.8"/>
<line x1="405.3" x2="414.5" y1="59.8" y2="59.8" stroke="#5f8c42" stroke-width="0.75"/>
<line x1="423.1" x2="423.1" y1="57.2" y2="59.4" stroke="#f0a43f" stroke-width="0.8"/>
<line x1="419.6" x2="426.6" y1="57.2" y2="57.2" stroke="#f0a43f" stroke-width="0.85"/>
<rect x="418.5" y="59.4" width="9.2" height="2.1" fill="#f5c482" stroke="#ef9f35" stroke-width="0.8"/>
<line x1="418.5" x2="427.7" y1="60.5" y2="60.5" stroke="#ef9f35" stroke-width="0.75"/>
<line x1="436.3" x2="436.3" y1="52.3" y2="56.2" stroke="#89a89d" stroke-width="0.8"/>
<line x1="432.8" x2="439.8" y1="52.3" y2="52.3" stroke="#89a89d" stroke-width="0.85"/>
<rect x="431.7" y="56.2" width="9.2" height="5.3" fill="#b1c5be" stroke="#83a398" stroke-width="0.8"/>
<line x1="431.7" x2="440.9" y1="60.5" y2="60.5" stroke="#83a398" stroke-width="0.75"/>
<line x1="449.5" x2="449.5" y1="48" y2="55.8" stroke="#d2466a" stroke-width="0.8"/>
<line x1="446" x2="453" y1="48" y2="48" stroke="#d2466a" stroke-width="0.85"/>
<rect x="444.9" y="55.8" width="9.2" height="5.7" fill="#e5849f" stroke="#d03c62" stroke-width="0.8"/>
<line x1="444.9" x2="454.1" y1="60.2" y2="60.2" stroke="#d03c62" stroke-width="0.75"/>
<line x1="383.5" x2="449.5" y1="24.5" y2="24.5" class="sb"/>
<circle cx="383.5" cy="24.5" r="0.55" class="sd"/><circle cx="449.5" cy="24.5" r="0.55" class="sd"/>
<ellipse cx="416.5" cy="24" rx="0.6" ry="0.8" class="sd"/>
<line x1="383.5" x2="436.3" y1="26.5" y2="26.5" class="sb"/>
<circle cx="383.5" cy="26.5" r="0.55" class="sd"/><circle cx="436.3" cy="26.5" r="0.55" class="sd"/>
<ellipse cx="412.9" cy="26" rx="0.6" ry="0.8" class="sd"/>
<line x1="383.5" x2="423.1" y1="28.5" y2="28.5" class="sb"/>
<circle cx="383.5" cy="28.5" r="0.55" class="sd"/><circle cx="423.1" cy="28.5" r="0.55" class="sd"/>
<ellipse cx="403.3" cy="28" rx="0.6" ry="0.8" class="sd"/>
<line x1="383.5" x2="396.7" y1="30.5" y2="30.5" class="sb"/>
<circle cx="383.5" cy="30.5" r="0.55" class="sd"/><circle cx="396.7" cy="30.5" r="0.55" class="sd"/>
<ellipse cx="390.1" cy="30" rx="0.6" ry="0.8" class="sd"/>
<line x1="396.7" x2="449.5" y1="37.5" y2="37.5" class="sb"/>
<circle cx="396.7" cy="37.5" r="0.55" class="sd"/><circle cx="449.5" cy="37.5" r="0.55" class="sd"/>
<ellipse cx="423.1" cy="37" rx="0.6" ry="0.8" class="sd"/>
<line x1="396.7" x2="409.9" y1="40.5" y2="40.5" class="sb"/>
<circle cx="396.7" cy="40.5" r="0.55" class="sd"/><circle cx="409.9" cy="40.5" r="0.55" class="sd"/>
<ellipse cx="403.3" cy="40" rx="0.6" ry="0.8" class="sd"/>
<text x="528.1" y="12.2" class="t1">PD1+CD3+</text>
<text x="528.1" y="18.3" class="t2">T cells</text>
<rect x="483.7" y="22.2" width="88.8" height="44" fill="#fff"/>
<line x1="483.7" x2="572.5" y1="27.2" y2="27.2" class="g"/>
<line x1="483.7" x2="572.5" y1="35.78" y2="35.78" class="g"/>
<line x1="483.7" x2="572.5" y1="44.35" y2="44.35" class="g"/>
<line x1="483.7" x2="572.5" y1="52.92" y2="52.92" class="g"/>
<line x1="483.7" x2="572.5" y1="61.5" y2="61.5" class="g"/>
<line x1="483.7" x2="483.7" y1="22.2" y2="66.2" class="ay"/>
<line x1="483.7" x2="572.5" y1="66.2" y2="66.2" class="ax"/>
<line x1="481.7" x2="483.7" y1="27.2" y2="27.2" class="tk"/>
<text transform="translate(480.9,29.05) scale(0.95,1)" class="tl">2</text>
<line x1="481.7" x2="483.7" y1="35.78" y2="35.78" class="tk"/>
<text transform="translate(480.9,37.63) scale(0.95,1)" class="tl">1.5</text>
<line x1="481.7" x2="483.7" y1="44.35" y2="44.35" class="tk"/>
<text transform="translate(480.9,46.2) scale(0.95,1)" class="tl">1</text>
<line x1="481.7" x2="483.7" y1="52.92" y2="52.92" class="tk"/>
<text transform="translate(480.9,54.77) scale(0.95,1)" class="tl">0.5</text>
<line x1="481.7" x2="483.7" y1="61.5" y2="61.5" class="tk"/>
<text transform="translate(480.9,63.35) scale(0.95,1)" class="tl">0</text>
<text transform="translate(471.8,44.2) rotate(-90) scale(0.9,1)" class="yt">% positive cells in total cells</text>
<line x1="495.6" x2="495.6" y1="34.3" y2="49.8" stroke="#53759d" stroke-width="0.8"/>
<line x1="492.1" x2="499.1" y1="34.3" y2="34.3" stroke="#53759d" stroke-width="0.85"/>
<rect x="491" y="49.8" width="9.2" height="11.5" fill="#869ebb" stroke="#4a6e98" stroke-width="0.8"/>
<line x1="491" x2="500.2" y1="58.2" y2="58.2" stroke="#4a6e98" stroke-width="0.75"/>
<rect x="503.9" y="60.95" width="9.8" height="1" fill="#bc7381"/>
<line x1="522" x2="522" y1="52.1" y2="54.9" stroke="#67924b" stroke-width="0.8"/>
<line x1="518.5" x2="525.5" y1="52.1" y2="52.1" stroke="#67924b" stroke-width="0.85"/>
<rect x="517.4" y="54.9" width="9.2" height="6.6" fill="#a1b68d" stroke="#5f8c42" stroke-width="0.8"/>
<line x1="517.4" x2="526.6" y1="60" y2="60" stroke="#5f8c42" stroke-width="0.75"/>
<line x1="535.2" x2="535.2" y1="60.2" y2="60.6" stroke="#f0a43f" stroke-width="0.8"/>
<line x1="531.7" x2="538.7" y1="60.2" y2="60.2" stroke="#f0a43f" stroke-width="0.85"/>
<rect x="530.6" y="60.6" width="9.2" height="1.2" fill="#f5c482" stroke="#ef9f35" stroke-width="0.8"/>
<line x1="548.4" x2="548.4" y1="58.2" y2="60" stroke="#89a89d" stroke-width="0.8"/>
<line x1="544.9" x2="551.9" y1="58.2" y2="58.2" stroke="#89a89d" stroke-width="0.85"/>
<rect x="543.8" y="60" width="9.2" height="1.5" fill="#b1c5be" stroke="#83a398" stroke-width="0.8"/>
<rect x="556.7" y="60.9" width="9.8" height="1" fill="#d96381"/>
<line x1="495.6" x2="561.6" y1="26.5" y2="26.5" class="sb"/>
<circle cx="495.6" cy="26.5" r="0.55" class="sd"/><circle cx="561.6" cy="26.5" r="0.55" class="sd"/>
<ellipse cx="528.6" cy="26" rx="0.6" ry="0.8" class="sd"/>
<line x1="495.6" x2="548.4" y1="28.5" y2="28.5" class="sb"/>
<circle cx="495.6" cy="28.5" r="0.55" class="sd"/><circle cx="548.4" cy="28.5" r="0.55" class="sd"/>
<ellipse cx="525" cy="28" rx="0.6" ry="0.8" class="sd"/>
<line x1="495.6" x2="535.2" y1="30.5" y2="30.5" class="sb"/>
<circle cx="495.6" cy="30.5" r="0.55" class="sd"/><circle cx="535.2" cy="30.5" r="0.55" class="sd"/>
<ellipse cx="515.4" cy="30" rx="0.6" ry="0.8" class="sd"/>
<line x1="495.6" x2="508.8" y1="32.5" y2="32.5" class="sb"/>
<circle cx="495.6" cy="32.5" r="0.55" class="sd"/><circle cx="508.8" cy="32.5" r="0.55" class="sd"/>
<ellipse cx="502.2" cy="32" rx="0.6" ry="0.8" class="sd"/>
<line x1="508.8" x2="522" y1="49.5" y2="49.5" class="sb"/>
<circle cx="508.8" cy="49.5" r="0.55" class="sd"/><circle cx="522" cy="49.5" r="0.55" class="sd"/>
<ellipse cx="515.4" cy="49" rx="0.6" ry="0.8" class="sd"/>
<text x="639.8" y="12.2" class="t1">PD-L1+CD3+</text>
<text x="639.8" y="18.3" class="t2">T cells</text>
<rect x="595.4" y="22.2" width="88.8" height="43.7" fill="#fff"/>
<line x1="595.4" x2="684.2" y1="27.2" y2="27.2" class="g"/>
<line x1="595.4" x2="684.2" y1="35.75" y2="35.75" class="g"/>
<line x1="595.4" x2="684.2" y1="44.3" y2="44.3" class="g"/>
<line x1="595.4" x2="684.2" y1="52.85" y2="52.85" class="g"/>
<line x1="595.4" x2="684.2" y1="61.4" y2="61.4" class="g"/>
<line x1="595.4" x2="595.4" y1="22.2" y2="65.9" class="ay"/>
<line x1="595.4" x2="684.2" y1="65.9" y2="65.9" class="ax"/>
<line x1="593.4" x2="595.4" y1="27.2" y2="27.2" class="tk"/>
<text transform="translate(592.6,29.05) scale(0.95,1)" class="tl">4</text>
<line x1="593.4" x2="595.4" y1="35.75" y2="35.75" class="tk"/>
<text transform="translate(592.6,37.6) scale(0.95,1)" class="tl">3</text>
<line x1="593.4" x2="595.4" y1="44.3" y2="44.3" class="tk"/>
<text transform="translate(592.6,46.15) scale(0.95,1)" class="tl">2</text>
<line x1="593.4" x2="595.4" y1="52.85" y2="52.85" class="tk"/>
<text transform="translate(592.6,54.7) scale(0.95,1)" class="tl">1</text>
<line x1="593.4" x2="595.4" y1="61.4" y2="61.4" class="tk"/>
<text transform="translate(592.6,63.25) scale(0.95,1)" class="tl">0</text>
<text transform="translate(583.5,44.05) rotate(-90) scale(0.9,1)" class="yt">% positive cells in total cells</text>
<line x1="607.3" x2="607.3" y1="35.9" y2="49.4" stroke="#53759d" stroke-width="0.8"/>
<line x1="603.8" x2="610.8" y1="35.9" y2="35.9" stroke="#53759d" stroke-width="0.85"/>
<line x1="607.3" x2="607.3" y1="60.4" y2="61.4" stroke="#53759d" stroke-width="0.8"/>
<line x1="603.8" x2="610.8" y1="61.4" y2="61.4" stroke="#53759d" stroke-width="0.85"/>
<rect x="602.7" y="49.4" width="9.2" height="11" fill="#869ebb" stroke="#4a6e98" stroke-width="0.8"/>
<line x1="602.7" x2="611.9" y1="58.2" y2="58.2" stroke="#4a6e98" stroke-width="0.75"/>
<rect x="615.9" y="60.6" width="9.2" height="1.2" fill="#d29ea7" stroke="#ab5062" stroke-width="0.8"/>
<line x1="633.7" x2="633.7" y1="43.1" y2="52.3" stroke="#67924b" stroke-width="0.8"/>
<line x1="630.2" x2="637.2" y1="43.1" y2="43.1" stroke="#67924b" stroke-width="0.85"/>
<rect x="629.1" y="52.3" width="9.2" height="9.1" fill="#a1b68d" stroke="#5f8c42" stroke-width="0.8"/>
<line x1="629.1" x2="638.3" y1="59.4" y2="59.4" stroke="#5f8c42" stroke-width="0.75"/>
<line x1="646.9" x2="646.9" y1="55.3" y2="58" stroke="#f0a43f" stroke-width="0.8"/>
<line x1="643.4" x2="650.4" y1="55.3" y2="55.3" stroke="#f0a43f" stroke-width="0.85"/>
<rect x="642.3" y="58" width="9.2" height="3.4" fill="#f5c482" stroke="#ef9f35" stroke-width="0.8"/>
<line x1="642.3" x2="651.5" y1="60.3" y2="60.3" stroke="#ef9f35" stroke-width="0.75"/>
<line x1="660.1" x2="660.1" y1="58.4" y2="59.4" stroke="#89a89d" stroke-width="0.8"/>
<line x1="656.6" x2="663.6" y1="58.4" y2="58.4" stroke="#89a89d" stroke-width="0.85"/>
<rect x="655.5" y="59.4" width="9.2" height="2" fill="#b1c5be" stroke="#83a398" stroke-width="0.8"/>
<line x1="655.5" x2="664.7" y1="60.8" y2="60.8" stroke="#83a398" stroke-width="0.75"/>
<rect x="668.4" y="60.9" width="9.8" height="1" fill="#d96381"/>
<line x1="607.3" x2="673.3" y1="29.5" y2="29.5" class="sb"/>
<circle cx="607.3" cy="29.5" r="0.55" class="sd"/><circle cx="673.3" cy="29.5" r="0.55" class="sd"/>
<ellipse cx="640.3" cy="29" rx="0.6" ry="0.8" class="sd"/>
<line x1="607.3" x2="660.1" y1="31.5" y2="31.5" class="sb"/>
<circle cx="607.3" cy="31.5" r="0.55" class="sd"/><circle cx="660.1" cy="31.5" r="0.55" class="sd"/>
<ellipse cx="636.7" cy="31" rx="0.6" ry="0.8" class="sd"/>
<line x1="607.3" x2="620.5" y1="34.5" y2="34.5" class="sb"/>
<circle cx="607.3" cy="34.5" r="0.55" class="sd"/><circle cx="620.5" cy="34.5" r="0.55" class="sd"/>
<ellipse cx="613.9" cy="34" rx="0.6" ry="0.8" class="sd"/>
<text x="416" y="79.4" class="t1">CD3+CD4+</text>
<text x="416" y="85.5" class="t2">Helper T cells</text>
<rect x="371.6" y="89.1" width="88.8" height="43.9" fill="#fff"/>
<line x1="371.6" x2="460.4" y1="93.6" y2="93.6" class="g"/>
<line x1="371.6" x2="460.4" y1="102.28" y2="102.28" class="g"/>
<line x1="371.6" x2="460.4" y1="110.95" y2="110.95" class="g"/>
<line x1="371.6" x2="460.4" y1="119.62" y2="119.62" class="g"/>
<line x1="371.6" x2="460.4" y1="128.3" y2="128.3" class="g"/>
<line x1="371.6" x2="371.6" y1="89.1" y2="133" class="ay"/>
<line x1="371.6" x2="460.4" y1="133" y2="133" class="ax"/>
<line x1="369.6" x2="371.6" y1="93.6" y2="93.6" class="tk"/>
<text transform="translate(368.8,95.45) scale(0.95,1)" class="tl">2</text>
<line x1="369.6" x2="371.6" y1="102.28" y2="102.28" class="tk"/>
<text transform="translate(368.8,104.12) scale(0.95,1)" class="tl">1.5</text>
<line x1="369.6" x2="371.6" y1="110.95" y2="110.95" class="tk"/>
<text transform="translate(368.8,112.8) scale(0.95,1)" class="tl">1</text>
<line x1="369.6" x2="371.6" y1="119.62" y2="119.62" class="tk"/>
<text transform="translate(368.8,121.47) scale(0.95,1)" class="tl">0.5</text>
<line x1="369.6" x2="371.6" y1="128.3" y2="128.3" class="tk"/>
<text transform="translate(368.8,130.15) scale(0.95,1)" class="tl">0</text>
<text transform="translate(359.7,111.05) rotate(-90) scale(0.9,1)" class="yt">% positive cells in total cells</text>
<line x1="383.5" x2="383.5" y1="99.9" y2="114.2" stroke="#53759d" stroke-width="0.8"/>
<line x1="380" x2="387" y1="99.9" y2="99.9" stroke="#53759d" stroke-width="0.85"/>
<line x1="383.5" x2="383.5" y1="126.4" y2="128.3" stroke="#53759d" stroke-width="0.8"/>
<line x1="380" x2="387" y1="128.3" y2="128.3" stroke="#53759d" stroke-width="0.85"/>
<rect x="378.9" y="114.2" width="9.2" height="12.2" fill="#869ebb" stroke="#4a6e98" stroke-width="0.8"/>
<line x1="378.9" x2="388.1" y1="122.3" y2="122.3" stroke="#4a6e98" stroke-width="0.75"/>
<rect x="391.8" y="127.35" width="9.8" height="1" fill="#bc7381"/>
<line x1="409.9" x2="409.9" y1="111.9" y2="120.1" stroke="#67924b" stroke-width="0.8"/>
<line x1="406.4" x2="413.4" y1="111.9" y2="111.9" stroke="#67924b" stroke-width="0.85"/>
<rect x="405.3" y="120.1" width="9.2" height="8" fill="#a1b68d" stroke="#5f8c42" stroke-width="0.8"/>
<line x1="405.3" x2="414.5" y1="125.8" y2="125.8" stroke="#5f8c42" stroke-width="0.75"/>
<line x1="423.1" x2="423.1" y1="121.3" y2="124.8" stroke="#f0a43f" stroke-width="0.8"/>
<line x1="419.6" x2="426.6" y1="121.3" y2="121.3" stroke="#f0a43f" stroke-width="0.85"/>
<rect x="418.5" y="124.8" width="9.2" height="3.5" fill="#f5c482" stroke="#ef9f35" stroke-width="0.8"/>
<line x1="418.5" x2="427.7" y1="126.8" y2="126.8" stroke="#ef9f35" stroke-width="0.75"/>
<line x1="436.3" x2="436.3" y1="122.3" y2="125" stroke="#89a89d" stroke-width="0.8"/>
<line x1="432.8" x2="439.8" y1="122.3" y2="122.3" stroke="#89a89d" stroke-width="0.85"/>
<rect x="431.7" y="125" width="9.2" height="3.3" fill="#b1c5be" stroke="#83a398" stroke-width="0.8"/>
<line x1="431.7" x2="440.9" y1="126.4" y2="126.4" stroke="#83a398" stroke-width="0.75"/>
<line x1="449.5" x2="449.5" y1="124" y2="126.4" stroke="#d2466a" stroke-width="0.8"/>
<line x1="446" x2="453" y1="124" y2="124" stroke="#d2466a" stroke-width="0.85"/>
<rect x="444.9" y="126.4" width="9.2" height="1.9" fill="#e5849f" stroke="#d03c62" stroke-width="0.8"/>
<line x1="444.9" x2="454.1" y1="127.3" y2="127.3" stroke="#d03c62" stroke-width="0.75"/>
<line x1="383.5" x2="449.5" y1="92.5" y2="92.5" class="sb"/>
<circle cx="383.5" cy="92.5" r="0.55" class="sd"/><circle cx="449.5" cy="92.5" r="0.55" class="sd"/>
<ellipse cx="416.5" cy="92" rx="0.6" ry="0.8" class="sd"/>
<line x1="383.5" x2="436.3" y1="94.5" y2="94.5" class="sb"/>
<circle cx="383.5" cy="94.5" r="0.55" class="sd"/><circle cx="436.3" cy="94.5" r="0.55" class="sd"/>
<ellipse cx="412.9" cy="94" rx="0.6" ry="0.8" class="sd"/>
<line x1="383.5" x2="423.1" y1="96.5" y2="96.5" class="sb"/>
<circle cx="383.5" cy="96.5" r="0.55" class="sd"/><circle cx="423.1" cy="96.5" r="0.55" class="sd"/>
<ellipse cx="403.3" cy="96" rx="0.6" ry="0.8" class="sd"/>
<line x1="383.5" x2="396.7" y1="98.5" y2="98.5" class="sb"/>
<circle cx="383.5" cy="98.5" r="0.55" class="sd"/><circle cx="396.7" cy="98.5" r="0.55" class="sd"/>
<ellipse cx="390.1" cy="98" rx="0.6" ry="0.8" class="sd"/>
<text x="528.1" y="79.4" class="t1">PD1+CD3+CD4+</text>
<text x="528.1" y="85.5" class="t2">Helper T cells</text>
<rect x="483.7" y="89.1" width="88.8" height="43.9" fill="#fff"/>
<line x1="483.7" x2="572.5" y1="93.6" y2="93.6" class="g"/>
<line x1="483.7" x2="572.5" y1="105.17" y2="105.17" class="g"/>
<line x1="483.7" x2="572.5" y1="116.73" y2="116.73" class="g"/>
<line x1="483.7" x2="572.5" y1="128.3" y2="128.3" class="g"/>
<line x1="483.7" x2="483.7" y1="89.1" y2="133" class="ay"/>
<line x1="483.7" x2="572.5" y1="133" y2="133" class="ax"/>
<line x1="481.7" x2="483.7" y1="93.6" y2="93.6" class="tk"/>
<text transform="translate(480.9,95.45) scale(0.95,1)" class="tl">0.3</text>
<line x1="481.7" x2="483.7" y1="105.17" y2="105.17" class="tk"/>
<text transform="translate(480.9,107.02) scale(0.95,1)" class="tl">0.2</text>
<line x1="481.7" x2="483.7" y1="116.73" y2="116.73" class="tk"/>
<text transform="translate(480.9,118.58) scale(0.95,1)" class="tl">0.1</text>
<line x1="481.7" x2="483.7" y1="128.3" y2="128.3" class="tk"/>
<text transform="translate(480.9,130.15) scale(0.95,1)" class="tl">0</text>
<text transform="translate(471.8,111.05) rotate(-90) scale(0.9,1)" class="yt">% positive cells in total cells</text>
<line x1="495.6" x2="495.6" y1="97.2" y2="116" stroke="#53759d" stroke-width="0.8"/>
<line x1="492.1" x2="499.1" y1="97.2" y2="97.2" stroke="#53759d" stroke-width="0.85"/>
<rect x="491" y="116" width="9.2" height="12.3" fill="#869ebb" stroke="#4a6e98" stroke-width="0.8"/>
<line x1="491" x2="500.2" y1="126.2" y2="126.2" stroke="#4a6e98" stroke-width="0.75"/>
<rect x="503.9" y="127.8" width="9.8" height="1" fill="#bc7381"/>
<line x1="522" x2="522" y1="122.3" y2="125.2" stroke="#67924b" stroke-width="0.8"/>
<line x1="518.5" x2="525.5" y1="122.3" y2="122.3" stroke="#67924b" stroke-width="0.85"/>
<rect x="517.4" y="125.2" width="9.2" height="3.1" fill="#a1b68d" stroke="#5f8c42" stroke-width="0.8"/>
<line x1="517.4" x2="526.6" y1="127.5" y2="127.5" stroke="#5f8c42" stroke-width="0.75"/>
<rect x="530.3" y="127.8" width="9.8" height="1" fill="#f2b25d"/>
<line x1="548.4" x2="548.4" y1="125.2" y2="126" stroke="#89a89d" stroke-width="0.8"/>
<line x1="544.9" x2="551.9" y1="125.2" y2="125.2" stroke="#89a89d" stroke-width="0.85"/>
<rect x="543.8" y="126" width="9.2" height="2.3" fill="#b1c5be" stroke="#83a398" stroke-width="0.8"/>
<line x1="543.8" x2="553" y1="127.5" y2="127.5" stroke="#83a398" stroke-width="0.75"/>
<rect x="556.7" y="127.8" width="9.8" height="1" fill="#d96381"/>
<line x1="495.6" x2="561.6" y1="91.5" y2="91.5" class="sb"/>
<circle cx="495.6" cy="91.5" r="0.55" class="sd"/><circle cx="561.6" cy="91.5" r="0.55" class="sd"/>
<ellipse cx="528.6" cy="91" rx="0.6" ry="0.8" class="sd"/>
<line x1="495.6" x2="535.2" y1="93.5" y2="93.5" class="sb"/>
<circle cx="495.6" cy="93.5" r="0.55" class="sd"/><circle cx="535.2" cy="93.5" r="0.55" class="sd"/>
<ellipse cx="515.4" cy="93" rx="0.6" ry="0.8" class="sd"/>
<line x1="495.6" x2="508.8" y1="95.5" y2="95.5" class="sb"/>
<circle cx="495.6" cy="95.5" r="0.55" class="sd"/><circle cx="508.8" cy="95.5" r="0.55" class="sd"/>
<ellipse cx="502.2" cy="95" rx="0.6" ry="0.8" class="sd"/>
<text x="639.8" y="79.4" class="t1">CD3+CD8+</text>
<text x="639.8" y="85.5" class="t2">Cytotoxic T cells</text>
<rect x="595.4" y="89.1" width="88.8" height="43.8" fill="#fff"/>
<line x1="595.4" x2="684.2" y1="93.6" y2="93.6" class="g"/>
<line x1="595.4" x2="684.2" y1="100.52" y2="100.52" class="g"/>
<line x1="595.4" x2="684.2" y1="107.44" y2="107.44" class="g"/>
<line x1="595.4" x2="684.2" y1="114.36" y2="114.36" class="g"/>
<line x1="595.4" x2="684.2" y1="121.28" y2="121.28" class="g"/>
<line x1="595.4" x2="684.2" y1="128.2" y2="128.2" class="g"/>
<line x1="595.4" x2="595.4" y1="89.1" y2="132.9" class="ay"/>
<line x1="595.4" x2="684.2" y1="132.9" y2="132.9" class="ax"/>
<line x1="593.4" x2="595.4" y1="93.6" y2="93.6" class="tk"/>
<text transform="translate(592.6,95.45) scale(0.95,1)" class="tl">5</text>
<line x1="593.4" x2="595.4" y1="100.52" y2="100.52" class="tk"/>
<text transform="translate(592.6,102.37) scale(0.95,1)" class="tl">4</text>
<line x1="593.4" x2="595.4" y1="107.44" y2="107.44" class="tk"/>
<text transform="translate(592.6,109.29) scale(0.95,1)" class="tl">3</text>
<line x1="593.4" x2="595.4" y1="114.36" y2="114.36" class="tk"/>
<text transform="translate(592.6,116.21) scale(0.95,1)" class="tl">2</text>
<line x1="593.4" x2="595.4" y1="121.28" y2="121.28" class="tk"/>
<text transform="translate(592.6,123.13) scale(0.95,1)" class="tl">1</text>
<line x1="593.4" x2="595.4" y1="128.2" y2="128.2" class="tk"/>
<text transform="translate(592.6,130.05) scale(0.95,1)" class="tl">0</text>
<text transform="translate(583.5,111) rotate(-90) scale(0.9,1)" class="yt">% positive cells in total cells</text>
<line x1="607.3" x2="607.3" y1="99.3" y2="115.6" stroke="#53759d" stroke-width="0.8"/>
<line x1="603.8" x2="610.8" y1="99.3" y2="99.3" stroke="#53759d" stroke-width="0.85"/>
<line x1="607.3" x2="607.3" y1="127" y2="128.2" stroke="#53759d" stroke-width="0.8"/>
<line x1="603.8" x2="610.8" y1="128.2" y2="128.2" stroke="#53759d" stroke-width="0.85"/>
<rect x="602.7" y="115.6" width="9.2" height="11.4" fill="#869ebb" stroke="#4a6e98" stroke-width="0.8"/>
<line x1="602.7" x2="611.9" y1="124.1" y2="124.1" stroke="#4a6e98" stroke-width="0.75"/>
<rect x="615.6" y="127.75" width="9.8" height="1" fill="#bc7381"/>
<line x1="633.7" x2="633.7" y1="111.1" y2="120.3" stroke="#67924b" stroke-width="0.8"/>
<line x1="630.2" x2="637.2" y1="111.1" y2="111.1" stroke="#67924b" stroke-width="0.85"/>
<rect x="629.1" y="120.3" width="9.2" height="7.9" fill="#a1b68d" stroke="#5f8c42" stroke-width="0.8"/>
<line x1="629.1" x2="638.3" y1="126.8" y2="126.8" stroke="#5f8c42" stroke-width="0.75"/>
<line x1="646.9" x2="646.9" y1="123.1" y2="125.8" stroke="#f0a43f" stroke-width="0.8"/>
<line x1="643.4" x2="650.4" y1="123.1" y2="123.1" stroke="#f0a43f" stroke-width="0.85"/>
<rect x="642.3" y="125.8" width="9.2" height="2.4" fill="#f5c482" stroke="#ef9f35" stroke-width="0.8"/>
<line x1="642.3" x2="651.5" y1="127" y2="127" stroke="#ef9f35" stroke-width="0.75"/>
<line x1="660.1" x2="660.1" y1="122.3" y2="125" stroke="#89a89d" stroke-width="0.8"/>
<line x1="656.6" x2="663.6" y1="122.3" y2="122.3" stroke="#89a89d" stroke-width="0.85"/>
<rect x="655.5" y="125" width="9.2" height="3.2" fill="#b1c5be" stroke="#83a398" stroke-width="0.8"/>
<line x1="655.5" x2="664.7" y1="127.3" y2="127.3" stroke="#83a398" stroke-width="0.75"/>
<line x1="673.3" x2="673.3" y1="125.2" y2="126" stroke="#d2466a" stroke-width="0.8"/>
<line x1="669.8" x2="676.8" y1="125.2" y2="125.2" stroke="#d2466a" stroke-width="0.85"/>
<rect x="668.7" y="126" width="9.2" height="2.5" fill="#e5849f" stroke="#d03c62" stroke-width="0.8"/>
<line x1="668.7" x2="677.9" y1="127.3" y2="127.3" stroke="#d03c62" stroke-width="0.75"/>
<line x1="607.3" x2="673.3" y1="90.5" y2="90.5" class="sb"/>
<circle cx="607.3" cy="90.5" r="0.55" class="sd"/><circle cx="673.3" cy="90.5" r="0.55" class="sd"/>
<ellipse cx="640.3" cy="90" rx="0.6" ry="0.8" class="sd"/>
<line x1="607.3" x2="660.1" y1="92.5" y2="92.5" class="sb"/>
<circle cx="607.3" cy="92.5" r="0.55" class="sd"/><circle cx="660.1" cy="92.5" r="0.55" class="sd"/>
<ellipse cx="636.7" cy="92" rx="0.6" ry="0.8" class="sd"/>
<line x1="607.3" x2="646.9" y1="94.5" y2="94.5" class="sb"/>
<circle cx="607.3" cy="94.5" r="0.55" class="sd"/><circle cx="646.9" cy="94.5" r="0.55" class="sd"/>
<ellipse cx="627.1" cy="94" rx="0.6" ry="0.8" class="sd"/>
<line x1="607.3" x2="633.7" y1="96.5" y2="96.5" class="sb"/>
<circle cx="607.3" cy="96.5" r="0.55" class="sd"/><circle cx="633.7" cy="96.5" r="0.55" class="sd"/>
<ellipse cx="620.5" cy="96" rx="0.6" ry="0.8" class="sd"/>
<line x1="607.3" x2="620.5" y1="99.5" y2="99.5" class="sb"/>
<circle cx="607.3" cy="99.5" r="0.55" class="sd"/><circle cx="620.5" cy="99.5" r="0.55" class="sd"/>
<ellipse cx="613.9" cy="99" rx="0.6" ry="0.8" class="sd"/>
<line x1="633.7" x2="646.9" y1="106.5" y2="106.5" class="sb"/>
<circle cx="633.7" cy="106.5" r="0.55" class="sd"/><circle cx="646.9" cy="106.5" r="0.55" class="sd"/>
<ellipse cx="640.3" cy="106" rx="0.6" ry="0.8" class="sd"/>
<line x1="620.5" x2="633.7" y1="109.5" y2="109.5" class="sb"/>
<circle cx="620.5" cy="109.5" r="0.55" class="sd"/><circle cx="633.7" cy="109.5" r="0.55" class="sd"/>
<ellipse cx="627.1" cy="109" rx="0.6" ry="0.8" class="sd"/>
<text x="416" y="147.8" class="t1">PD1+CD3+CD8+</text>
<text x="416" y="153.9" class="t2">Cytotoxic T cells</text>
<rect x="371.6" y="155.5" width="88.8" height="43.8" fill="#fff"/>
<line x1="371.6" x2="460.4" y1="160.2" y2="160.2" class="g"/>
<line x1="371.6" x2="460.4" y1="167.04" y2="167.04" class="g"/>
<line x1="371.6" x2="460.4" y1="173.88" y2="173.88" class="g"/>
<line x1="371.6" x2="460.4" y1="180.72" y2="180.72" class="g"/>
<line x1="371.6" x2="460.4" y1="187.56" y2="187.56" class="g"/>
<line x1="371.6" x2="460.4" y1="194.4" y2="194.4" class="g"/>
<line x1="371.6" x2="371.6" y1="155.5" y2="199.3" class="ay"/>
<line x1="371.6" x2="460.4" y1="199.3" y2="199.3" class="ax"/>
<line x1="369.6" x2="371.6" y1="160.2" y2="160.2" class="tk"/>
<text transform="translate(368.8,162.05) scale(0.95,1)" class="tl">1</text>
<line x1="369.6" x2="371.6" y1="167.04" y2="167.04" class="tk"/>
<text transform="translate(368.8,168.89) scale(0.95,1)" class="tl">0.8</text>
<line x1="369.6" x2="371.6" y1="173.88" y2="173.88" class="tk"/>
<text transform="translate(368.8,175.73) scale(0.95,1)" class="tl">0.6</text>
<line x1="369.6" x2="371.6" y1="180.72" y2="180.72" class="tk"/>
<text transform="translate(368.8,182.57) scale(0.95,1)" class="tl">0.4</text>
<line x1="369.6" x2="371.6" y1="187.56" y2="187.56" class="tk"/>
<text transform="translate(368.8,189.41) scale(0.95,1)" class="tl">0.2</text>
<line x1="369.6" x2="371.6" y1="194.4" y2="194.4" class="tk"/>
<text transform="translate(368.8,196.25) scale(0.95,1)" class="tl">0</text>
<text transform="translate(359.7,177.4) rotate(-90) scale(0.9,1)" class="yt">% positive cells in total cells</text>
<line x1="383.5" x2="383.5" y1="161.4" y2="181.2" stroke="#53759d" stroke-width="0.8"/>
<line x1="380" x2="387" y1="161.4" y2="161.4" stroke="#53759d" stroke-width="0.85"/>
<rect x="378.9" y="181.2" width="9.2" height="13" fill="#869ebb" stroke="#4a6e98" stroke-width="0.8"/>
<line x1="378.9" x2="388.1" y1="192.2" y2="192.2" stroke="#4a6e98" stroke-width="0.75"/>
<rect x="391.8" y="193.9" width="9.8" height="1" fill="#bc7381"/>
<line x1="409.9" x2="409.9" y1="183.2" y2="189.1" stroke="#67924b" stroke-width="0.8"/>
<line x1="406.4" x2="413.4" y1="183.2" y2="183.2" stroke="#67924b" stroke-width="0.85"/>
<rect x="405.3" y="189.1" width="9.2" height="5.3" fill="#a1b68d" stroke="#5f8c42" stroke-width="0.8"/>
<line x1="405.3" x2="414.5" y1="193.5" y2="193.5" stroke="#5f8c42" stroke-width="0.75"/>
<line x1="423.1" x2="423.1" y1="191.2" y2="193.2" stroke="#f0a43f" stroke-width="0.8"/>
<line x1="419.6" x2="426.6" y1="191.2" y2="191.2" stroke="#f0a43f" stroke-width="0.85"/>
<rect x="418.5" y="193.2" width="9.2" height="1.4" fill="#f5c482" stroke="#ef9f35" stroke-width="0.8"/>
<line x1="436.3" x2="436.3" y1="192" y2="193.2" stroke="#89a89d" stroke-width="0.8"/>
<line x1="432.8" x2="439.8" y1="192" y2="192" stroke="#89a89d" stroke-width="0.85"/>
<rect x="431.7" y="193.2" width="9.2" height="1.4" fill="#b1c5be" stroke="#83a398" stroke-width="0.8"/>
<rect x="444.9" y="193.8" width="9.2" height="1.2" fill="#e5849f" stroke="#d03c62" stroke-width="0.8"/>
<line x1="383.5" x2="449.5" y1="157.5" y2="157.5" class="sb"/>
<circle cx="383.5" cy="157.5" r="0.55" class="sd"/><circle cx="449.5" cy="157.5" r="0.55" class="sd"/>
<ellipse cx="416.5" cy="157" rx="0.6" ry="0.8" class="sd"/>
<line x1="383.5" x2="436.3" y1="159.5" y2="159.5" class="sb"/>
<circle cx="383.5" cy="159.5" r="0.55" class="sd"/><circle cx="436.3" cy="159.5" r="0.55" class="sd"/>
<ellipse cx="412.9" cy="159" rx="0.6" ry="0.8" class="sd"/>
<line x1="383.5" x2="423.1" y1="161.5" y2="161.5" class="sb"/>
<circle cx="383.5" cy="161.5" r="0.55" class="sd"/><circle cx="423.1" cy="161.5" r="0.55" class="sd"/>
<ellipse cx="403.3" cy="161" rx="0.6" ry="0.8" class="sd"/>
<line x1="383.5" x2="396.7" y1="163.5" y2="163.5" class="sb" style="stroke:#858585"/>
<circle cx="383.5" cy="163.5" r="0.55" class="sd"/><circle cx="396.7" cy="163.5" r="0.55" class="sd"/>
<ellipse cx="390.1" cy="163" rx="0.6" ry="0.8" class="sd" style="fill:#9a9a9a"/>
<line x1="396.7" x2="409.9" y1="180.5" y2="180.5" class="sb"/>
<circle cx="396.7" cy="180.5" r="0.55" class="sd"/><circle cx="409.9" cy="180.5" r="0.55" class="sd"/>
<ellipse cx="403.3" cy="180" rx="0.6" ry="0.8" class="sd"/>
<text x="528.1" y="147.8" class="t1">CD3+CD4+FOXP3+</text>
<text x="528.1" y="153.9" class="t2">Regulatory T cells</text>
<rect x="483.7" y="155.5" width="88.8" height="43.8" fill="#fff"/>
<line x1="483.7" x2="572.5" y1="160.2" y2="160.2" class="g"/>
<line x1="483.7" x2="572.5" y1="167.04" y2="167.04" class="g"/>
<line x1="483.7" x2="572.5" y1="173.88" y2="173.88" class="g"/>
<line x1="483.7" x2="572.5" y1="180.72" y2="180.72" class="g"/>
<line x1="483.7" x2="572.5" y1="187.56" y2="187.56" class="g"/>
<line x1="483.7" x2="572.5" y1="194.4" y2="194.4" class="g"/>
<line x1="483.7" x2="483.7" y1="155.5" y2="199.3" class="ay"/>
<line x1="483.7" x2="572.5" y1="199.3" y2="199.3" class="ax"/>
<line x1="481.7" x2="483.7" y1="160.2" y2="160.2" class="tk"/>
<text transform="translate(480.9,162.05) scale(0.95,1)" class="tl">1</text>
<line x1="481.7" x2="483.7" y1="167.04" y2="167.04" class="tk"/>
<text transform="translate(480.9,168.89) scale(0.95,1)" class="tl">0.8</text>
<line x1="481.7" x2="483.7" y1="173.88" y2="173.88" class="tk"/>
<text transform="translate(480.9,175.73) scale(0.95,1)" class="tl">0.6</text>
<line x1="481.7" x2="483.7" y1="180.72" y2="180.72" class="tk"/>
<text transform="translate(480.9,182.57) scale(0.95,1)" class="tl">0.4</text>
<line x1="481.7" x2="483.7" y1="187.56" y2="187.56" class="tk"/>
<text transform="translate(480.9,189.41) scale(0.95,1)" class="tl">0.2</text>
<line x1="481.7" x2="483.7" y1="194.4" y2="194.4" class="tk"/>
<text transform="translate(480.9,196.25) scale(0.95,1)" class="tl">0</text>
<text transform="translate(471.8,177.4) rotate(-90) scale(0.9,1)" class="yt">% positive cells in total cells</text>
<line x1="495.6" x2="495.6" y1="161.2" y2="177.3" stroke="#53759d" stroke-width="0.8"/>
<line x1="492.1" x2="499.1" y1="161.2" y2="161.2" stroke="#53759d" stroke-width="0.85"/>
<line x1="495.6" x2="495.6" y1="192.8" y2="194.4" stroke="#53759d" stroke-width="0.8"/>
<line x1="492.1" x2="499.1" y1="194.4" y2="194.4" stroke="#53759d" stroke-width="0.85"/>
<rect x="491" y="177.3" width="9.2" height="15.5" fill="#869ebb" stroke="#4a6e98" stroke-width="0.8"/>
<line x1="491" x2="500.2" y1="189.3" y2="189.3" stroke="#4a6e98" stroke-width="0.75"/>
<line x1="508.8" x2="508.8" y1="193.4" y2="193.8" stroke="#af596a" stroke-width="0.8"/>
<line x1="505.3" x2="512.3" y1="193.4" y2="193.4" stroke="#af596a" stroke-width="0.85"/>
<rect x="504.2" y="193.8" width="9.2" height="1.1" fill="#d29ea7" stroke="#ab5062" stroke-width="0.8"/>
<line x1="522" x2="522" y1="175.5" y2="185.1" stroke="#67924b" stroke-width="0.8"/>
<line x1="518.5" x2="525.5" y1="175.5" y2="175.5" stroke="#67924b" stroke-width="0.85"/>
<rect x="517.4" y="185.1" width="9.2" height="9.3" fill="#a1b68d" stroke="#5f8c42" stroke-width="0.8"/>
<line x1="517.4" x2="526.6" y1="193.2" y2="193.2" stroke="#5f8c42" stroke-width="0.75"/>
<line x1="535.2" x2="535.2" y1="184.2" y2="190.2" stroke="#f0a43f" stroke-width="0.8"/>
<line x1="531.7" x2="538.7" y1="184.2" y2="184.2" stroke="#f0a43f" stroke-width="0.85"/>
<rect x="530.6" y="190.2" width="9.2" height="4.2" fill="#f5c482" stroke="#ef9f35" stroke-width="0.8"/>
<line x1="530.6" x2="539.8" y1="193.8" y2="193.8" stroke="#ef9f35" stroke-width="0.75"/>
<line x1="548.4" x2="548.4" y1="184.2" y2="188.3" stroke="#89a89d" stroke-width="0.8"/>
<line x1="544.9" x2="551.9" y1="184.2" y2="184.2" stroke="#89a89d" stroke-width="0.85"/>
<rect x="543.8" y="188.3" width="9.2" height="6.1" fill="#b1c5be" stroke="#83a398" stroke-width="0.8"/>
<line x1="543.8" x2="553" y1="193.5" y2="193.5" stroke="#83a398" stroke-width="0.75"/>
<line x1="561.6" x2="561.6" y1="191.4" y2="193" stroke="#d2466a" stroke-width="0.8"/>
<line x1="558.1" x2="565.1" y1="191.4" y2="191.4" stroke="#d2466a" stroke-width="0.85"/>
<rect x="557" y="193" width="9.2" height="1.6" fill="#e5849f" stroke="#d03c62" stroke-width="0.8"/>
<line x1="557" x2="566.2" y1="194" y2="194" stroke="#d03c62" stroke-width="0.75"/>
<line x1="495.6" x2="561.6" y1="157.5" y2="157.5" class="sb"/>
<circle cx="495.6" cy="157.5" r="0.55" class="sd"/><circle cx="561.6" cy="157.5" r="0.55" class="sd"/>
<ellipse cx="528.6" cy="157" rx="0.6" ry="0.8" class="sd"/>
<line x1="495.6" x2="548.4" y1="159.5" y2="159.5" class="sb"/>
<circle cx="495.6" cy="159.5" r="0.55" class="sd"/><circle cx="548.4" cy="159.5" r="0.55" class="sd"/>
<ellipse cx="525" cy="159" rx="0.6" ry="0.8" class="sd"/>
<line x1="495.6" x2="535.2" y1="161.5" y2="161.5" class="sb"/>
<circle cx="495.6" cy="161.5" r="0.55" class="sd"/><circle cx="535.2" cy="161.5" r="0.55" class="sd"/>
<ellipse cx="515.4" cy="161" rx="0.6" ry="0.8" class="sd"/>
<line x1="495.6" x2="508.8" y1="163.5" y2="163.5" class="sb"/>
<circle cx="495.6" cy="163.5" r="0.55" class="sd"/><circle cx="508.8" cy="163.5" r="0.55" class="sd"/>
<ellipse cx="502.2" cy="163" rx="0.6" ry="0.8" class="sd"/>
<text x="639.8" y="147.8" class="t1">PD1+CD3+CD4+FOXP3+</text>
<text x="639.8" y="153.9" class="t2">Regulatory T cells</text>
<rect x="595.4" y="155.5" width="88.8" height="43.8" fill="#fff"/>
<line x1="595.4" x2="684.2" y1="160.4" y2="160.4" class="g"/>
<line x1="595.4" x2="684.2" y1="171.73" y2="171.73" class="g"/>
<line x1="595.4" x2="684.2" y1="183.07" y2="183.07" class="g"/>
<line x1="595.4" x2="684.2" y1="194.4" y2="194.4" class="g"/>
<line x1="595.4" x2="595.4" y1="155.5" y2="199.3" class="ay"/>
<line x1="595.4" x2="684.2" y1="199.3" y2="199.3" class="ax"/>
<line x1="593.4" x2="595.4" y1="160.4" y2="160.4" class="tk"/>
<text transform="translate(592.6,162.25) scale(0.95,1)" class="tl">0.15</text>
<line x1="593.4" x2="595.4" y1="171.73" y2="171.73" class="tk"/>
<text transform="translate(592.6,173.58) scale(0.95,1)" class="tl">0.1</text>
<line x1="593.4" x2="595.4" y1="183.07" y2="183.07" class="tk"/>
<text transform="translate(592.6,184.92) scale(0.95,1)" class="tl">0.05</text>
<line x1="593.4" x2="595.4" y1="194.4" y2="194.4" class="tk"/>
<text transform="translate(592.6,196.25) scale(0.95,1)" class="tl">0</text>
<text transform="translate(583.5,177.4) rotate(-90) scale(0.9,1)" class="yt">% positive cells in total cells</text>
<line x1="607.3" x2="607.3" y1="161.2" y2="180.3" stroke="#53759d" stroke-width="0.8"/>
<line x1="603.8" x2="610.8" y1="161.2" y2="161.2" stroke="#53759d" stroke-width="0.85"/>
<rect x="602.7" y="180.3" width="9.2" height="14.1" fill="#869ebb" stroke="#4a6e98" stroke-width="0.8"/>
<line x1="602.7" x2="611.9" y1="193.8" y2="193.8" stroke="#4a6e98" stroke-width="0.75"/>
<rect x="615.6" y="193.9" width="9.8" height="1" fill="#bc7381"/>
<rect x="628.8" y="193.9" width="9.8" height="1" fill="#7fa368"/>
<rect x="642" y="193.9" width="9.8" height="1" fill="#f2b25d"/>
<rect x="655.2" y="193.9" width="9.8" height="1" fill="#627a72"/>
<rect x="668.4" y="193.9" width="9.8" height="1" fill="#d96381"/>
<line x1="607.3" x2="673.3" y1="157.5" y2="157.5" class="sb" style="stroke:#8a8a8a;stroke-width:1.3"/>
<circle cx="607.3" cy="157.5" r="0.55" class="sd"/><circle cx="673.3" cy="157.5" r="0.55" class="sd"/>
<ellipse cx="640.3" cy="157" rx="0.6" ry="0.8" class="sd"/>
<line x1="607.3" x2="646.9" y1="159.5" y2="159.5" class="sb" style="stroke:#8a8a8a;stroke-width:1.3"/>
<circle cx="607.3" cy="159.5" r="0.55" class="sd"/><circle cx="646.9" cy="159.5" r="0.55" class="sd"/>
<ellipse cx="627.1" cy="159" rx="0.6" ry="0.8" class="sd"/>
<line x1="607.3" x2="633.7" y1="161.5" y2="161.5" class="sb" style="stroke:#8a8a8a;stroke-width:1.3"/>
<circle cx="607.3" cy="161.5" r="0.55" class="sd"/><circle cx="633.7" cy="161.5" r="0.55" class="sd"/>
<ellipse cx="620.5" cy="161" rx="0.6" ry="0.8" class="sd"/>
<line x1="607.3" x2="620.5" y1="163.5" y2="163.5" class="sb" style="stroke:#8a8a8a;stroke-width:1.3"/>
<circle cx="607.3" cy="163.5" r="0.55" class="sd"/><circle cx="620.5" cy="163.5" r="0.55" class="sd"/>
<ellipse cx="613.9" cy="163" rx="0.6" ry="0.8" class="sd"/>
<rect x="67.4" y="210.3" width="215.2" height="35.1" fill="#fff" stroke="#555" stroke-width="0.9"/>
<rect x="71.2" y="215.55" width="32.6" height="3.8" fill="#8ea6c4" stroke="#3f6796" stroke-width="0.8"/>
<text x="109.4" y="219.6" class="lg">Myxofibrosarcoma</text>
<rect x="71.2" y="226.3" width="32.6" height="3.8" fill="#a8bf8c" stroke="#5a8a35" stroke-width="0.8"/>
<text x="109.4" y="230.5" class="lg">MFH/UPS</text>
<rect x="71.2" y="236.9" width="32.6" height="3.8" fill="#b4cac2" stroke="#7fa096" stroke-width="0.8"/>
<text x="109.4" y="241.2" class="lg">Others</text>
<rect x="182.4" y="215.55" width="32.6" height="3.8" fill="#d6a2aa" stroke="#a84a5a" stroke-width="0.8"/>
<text x="221" y="219.6" class="lg">Synovial sarcoma</text>
<rect x="182.4" y="226.3" width="32.6" height="3.8" fill="#f6c488" stroke="#f0a030" stroke-width="0.8"/>
<text x="221" y="230.5" class="lg">Liposarcoma</text>
<rect x="182.4" y="236.9" width="32.6" height="3.8" fill="#e68098" stroke="#d02850" stroke-width="0.8"/>
<text x="221" y="241.2" class="lg">Leiomyosarcoma</text>
<rect x="414.3" y="208.1" width="214.3" height="35.9" fill="#fff" stroke="#555" stroke-width="0.9"/>
<rect x="418.3" y="213.8" width="32.6" height="3.8" fill="#8ea6c4" stroke="#3f6796" stroke-width="0.8"/>
<text x="454" y="218.9" class="lg">Myxofibrosarcoma</text>
<rect x="418.3" y="224.5" width="32.6" height="3.8" fill="#a8bf8c" stroke="#5a8a35" stroke-width="0.8"/>
<text x="454" y="229.3" class="lg">UPS</text>
<rect x="418.3" y="235.1" width="32.6" height="3.8" fill="#b4cac2" stroke="#7fa096" stroke-width="0.8"/>
<text x="454" y="239.9" class="lg">Others</text>
<rect x="529" y="213.8" width="32.6" height="3.8" fill="#d6a2aa" stroke="#a84a5a" stroke-width="0.8"/>
<text x="567" y="218.9" class="lg">Synovial sarcoma</text>
<rect x="529" y="224.5" width="32.6" height="3.8" fill="#f6c488" stroke="#f0a030" stroke-width="0.8"/>
<text x="567" y="229.3" class="lg">Liposarcoma</text>
<rect x="529" y="235.1" width="32.6" height="3.8" fill="#e68098" stroke="#d02850" stroke-width="0.8"/>
<text x="567" y="239.9" class="lg">Leiomyosarcoma</text>
</g></svg></div></body></html>
